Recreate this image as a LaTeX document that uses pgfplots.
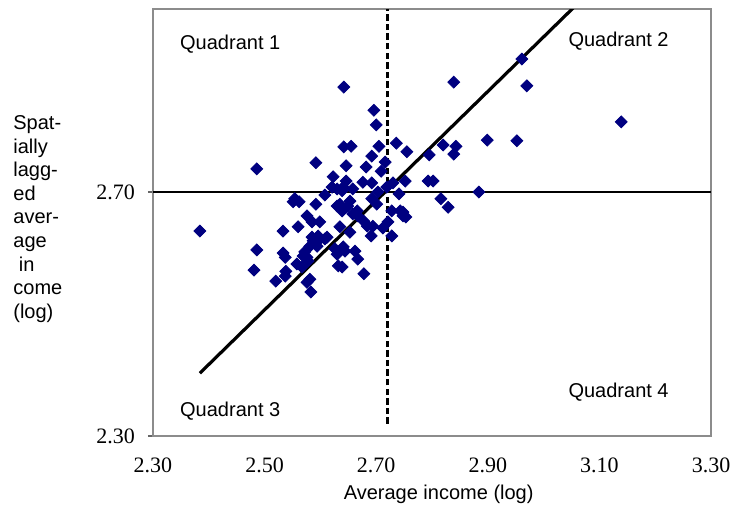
\documentclass[border=0pt]{standalone}
\usepackage{pgfplots}
\pgfplotsset{compat=1.18}
\usepackage{fontspec}
\setmainfont{Liberation Sans}
\newfontfamily\tickfont{Liberation Serif}
\definecolor{navy}{RGB}{0,0,128}
\begin{document}
\begin{tikzpicture}
\useasboundingbox (-76.5pt,-36.5pt) rectangle (289.5pt,218pt);
\begin{axis}[
  at={(0,0)}, anchor=south west,
  scale only axis, width=279pt, height=213.5pt,
  xmin=2.3, xmax=3.3, ymin=2.3, ymax=3.0,
  xtick={2.3,2.5,2.7,2.9,3.1,3.3},
  xticklabels={2.30,2.50,2.70,2.90,3.10,3.30},
  ytick={2.3,2.7},
  yticklabels={2.30,2.70},
  axis line style={draw=gray!90, line width=0.8pt},
  xtick style={draw=none},
  ytick style={draw=black!60, line width=0.6pt},
  tick align=outside, ytick pos=left, xtick pos=bottom,
  major tick length=2.5pt,
  ticklabel style={font=\tickfont\fontsize{11}{13}\selectfont},
  xticklabel style={yshift=-5pt},
  yticklabel style={xshift=-3pt},
  xlabel={Average income (log)},
  xlabel style={at={(axis description cs:0.512,0)}, anchor=center, yshift=-29pt, font=\fontsize{10}{12}\selectfont},
  clip=true,
]
\addplot[black, line width=0.6pt] coordinates {(2.3,2.7) (3.3,2.7)};
\addplot[black, line width=1.6pt, dash pattern=on 3.2pt off 1.6pt] coordinates {(2.72,2.32) (2.72,3.0)};
\addplot[black, line width=1.6pt] coordinates {(2.384,2.403) (3.06,3.008)};
\addplot[only marks, mark=square*, mark size=2.1pt, navy, mark options={rotate=45, draw=navy, fill=navy}] coordinates {
(2.642,2.872) (2.696,2.834) (2.700,2.810) (2.642,2.774) (2.655,2.775)
(2.705,2.775) (2.736,2.780) (2.755,2.766) (2.692,2.759) (2.486,2.738)
(2.592,2.748) (2.646,2.743) (2.682,2.741) (2.709,2.734) (2.716,2.749)
(2.623,2.725) (2.646,2.718) (2.676,2.716) (2.692,2.715) (2.752,2.718)
(2.795,2.761) (2.793,2.718) (2.802,2.718) (2.630,2.705) (2.639,2.702)
(2.658,2.705) (2.703,2.700) (2.730,2.715) (2.741,2.697) (2.608,2.695)
(2.554,2.689) (2.961,2.918) (2.839,2.880) (2.970,2.874) (3.139,2.815)
(2.899,2.785) (2.952,2.784) (2.820,2.777) (2.843,2.775) (2.839,2.762)
(2.884,2.700) (2.816,2.689) (2.829,2.675) (2.748,2.667) (2.753,2.659)
(2.384,2.636) (2.486,2.605) (2.481,2.572) (2.520,2.554) (2.533,2.636)
(2.533,2.600) (2.537,2.593) (2.538,2.570) (2.537,2.562) (2.551,2.684)
(2.562,2.684) (2.592,2.680) (2.576,2.661) (2.560,2.643) (2.585,2.651)
(2.599,2.651) (2.558,2.582) (2.572,2.602) (2.576,2.593) (2.578,2.587)
(2.587,2.620) (2.599,2.623) (2.608,2.623) (2.581,2.611) (2.594,2.611)
(2.576,2.552) (2.581,2.557) (2.583,2.536) (2.635,2.680) (2.639,2.669)
(2.653,2.685) (2.658,2.664) (2.667,2.661) (2.635,2.643) (2.653,2.634)
(2.626,2.607) (2.641,2.610) (2.644,2.603) (2.630,2.598) (2.662,2.603)
(2.667,2.590) (2.639,2.577) (2.678,2.566) (2.678,2.652) (2.684,2.644)
(2.691,2.628) (2.694,2.644) (2.692,2.689) (2.701,2.680) (2.712,2.641)
(2.721,2.651) (2.728,2.628) (2.728,2.669) (2.743,2.669) (2.748,2.661)
(2.719,2.708) (2.641,2.708) (2.621,2.708) (2.612,2.626) (2.569,2.595)
(2.567,2.577) (2.632,2.579) (2.649,2.677) (2.666,2.669) (2.596,2.628)
(2.585,2.626) (2.630,2.677)
};
\node[anchor=west, inner sep=0pt, font=\fontsize{10}{12}\selectfont] at (axis cs:2.348,2.943) {Quadrant 1};
\node[anchor=west, inner sep=0pt, font=\fontsize{10}{12}\selectfont] at (axis cs:3.044,2.948) {Quadrant 2};
\node[anchor=west, inner sep=0pt, font=\fontsize{10}{12}\selectfont] at (axis cs:2.348,2.341) {Quadrant 3};
\node[anchor=west, inner sep=0pt, font=\fontsize{10}{12}\selectfont] at (axis cs:3.044,2.372) {Quadrant 4};
\end{axis}
\node[anchor=west, align=left, inner sep=0pt, font=\fontsize{10}{11.8}\selectfont] at (-70pt,108.5pt)
  {Spat-\\ially\\lagg-\\ed\\aver-\\age\\\hspace*{2.8pt}in\\come\\(log)};
\end{tikzpicture}
\end{document}
